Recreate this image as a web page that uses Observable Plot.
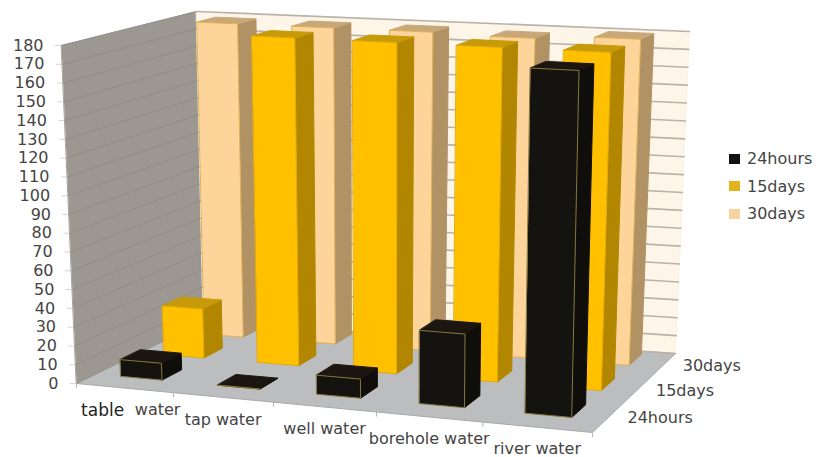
<!DOCTYPE html>
<html>
<head>
<meta charset="utf-8">
<script src="https://cdn.jsdelivr.net/npm/d3@7"></script>
<script src="https://cdn.jsdelivr.net/npm/@observablehq/plot@0.6"></script>
<style>
  body { margin: 0; background: #fff; }
  #chart { position: relative; width: 816px; height: 457px; overflow: hidden; }
  #legend { position: absolute; left: 729px; top: 145px; font: 16px "DejaVu Sans", sans-serif; color: #444; }
  #legend div { display: flex; align-items: center; height: 27.5px; }
  #legend i { width: 11px; height: 10px; margin-right: 7px; display: block; }
</style>
</head>
<body>
<div id="chart"></div>
<script>
// Readings per water source and storage time
const categories = ["table water", "tap water", "well water", "borehole water", "river water"];
const seriesNames = ["24hours", "15days", "30days"];
const hours24 = [9, 0, 10, 38, 177];
const days15 = [27, 179, 179, 179, 179];
const days30 = [178, 178, 178, 177, 179];
const seriesValues = [hours24, days15, days30];
const valueTicks = d3.range(0, 181, 10);
const maxValue = 180;

// Face shades for each series
const shades = [
  {front: "#151310", side: "#0f0e0b", top: "#1c1610", edge: "#85773c", key: "#141210"},
  {front: "#ffc000", side: "#b38600", top: "#c79a0a", edge: "#e3ac0c", key: "#e2b31f"},
  {front: "#fdd49a", side: "#b09265", top: "#c8a878", edge: "#e0b253", key: "#f7d29c"}
];

// Floor corners on screen, and how far the full value height rises and leans at each
const corners = {
  frontLeft: {x: 76, y: 383, rise: 338, lean: -15},
  frontRight: {x: 592, y: 432, rise: 360, lean: 8},
  backRight: {x: 675, y: 353, rise: 322, lean: 14},
  backLeft: {x: 203, y: 321, rise: 310, lean: -7}
};
const widthPerspective = 0.08;
const depthPerspective = 0.1;
const barWidth = 0.43;
const barDepth = 0.46;
const barCenter = 0.48;
const rowCenter = 0.65;

// Value at (a, b) between the four corners
const blend = (key, a, b) =>
  (1 - b) * ((1 - a) * corners.frontLeft[key] + a * corners.frontRight[key]) +
  b * ((1 - a) * corners.backLeft[key] + a * corners.backRight[key]);

// Chart box position (across, deep, value) to screen position
function project(u, v, value) {
  const a = u / (1 + widthPerspective * (1 - u));
  const b = (v * (1 + depthPerspective)) / (1 + depthPerspective * v);
  const t = value / maxValue;
  return {x: blend("x", a, b) + blend("lean", a, b) * t, y: blend("y", a, b) - blend("rise", a, b) * t};
}

// Polygons are flat point lists grouped by id and painted in order
let polyId = 0;
function addPoly(target, points, fill, stroke) {
  const id = polyId++;
  for (const [u, v, value] of points) target.push({id, fill, stroke, ...project(u, v, value)});
}

// Chart box: left wall, back wall, floor
const box = [];
addPoly(box, [[0, 0, 0], [0, 1, 0], [0, 1, maxValue], [0, 0, maxValue]], "#9c9790", "#a8a39c");
addPoly(box, [[0, 1, 0], [1, 1, 0], [1, 1, maxValue], [0, 1, maxValue]], "#fdf5e8", "#fbf3e4");
addPoly(box, [[0, 0, 0], [1, 0, 0], [1, 1, 0], [0, 1, 0]], "#bcbdbe", "#a9a9a9");

// Gridlines on both walls
const leftGrid = [], backGrid = [];
for (const tick of valueTicks) {
  leftGrid.push({tick, ...project(0, 0, tick)}, {tick, ...project(0, 1, tick)});
  backGrid.push({tick, ...project(0, 1, tick)}, {tick, ...project(1, 1, tick)});
}

// Bars run back to front and left to right so nearer faces cover farther ones
const bars = [];
for (let j = seriesNames.length - 1; j >= 0; j--) {
  const s = shades[j];
  seriesValues[j].forEach((value, i) => {
    const u0 = (i + barCenter - barWidth / 2) / categories.length, u1 = (i + barCenter + barWidth / 2) / categories.length;
    const v0 = (j + rowCenter - barDepth / 2) / seriesNames.length, v1 = (j + rowCenter + barDepth / 2) / seriesNames.length;
    addPoly(bars, [[u1, v0, 0], [u1, v1, 0], [u1, v1, value], [u1, v0, value]], s.side, s.side);
    addPoly(bars, [[u0, v0, value], [u1, v0, value], [u1, v1, value], [u0, v1, value]], s.top, s.top);
    addPoly(bars, [[u0, v0, 0], [u1, v0, 0], [u1, v0, value], [u0, v0, value]], s.front, s.edge);
  });
}

// Axis labels
const valueLabels = valueTicks.map((tick) => ({tick, ...project(0, 0, tick)}));
const categoryLabels = categories.slice(1).map((name, i) => ({name, ...project((i + 1.5) / categories.length, 0, 0)}));
const firstCategory = project(0.5 / categories.length, 0, 0);
const depthLabels = seriesNames.map((name, j) => ({name, ...project(1, (j + 0.5) / seriesNames.length, 0)}));
const categoryTicks = d3.range(0, categories.length + 1).map((i) => project(i / categories.length, 0, 0));

const labelFont = {fontFamily: "DejaVu Sans", fontSize: 16, fill: "#444"};
const polyStyle = {x: "x", y: "y", z: "id", fill: "fill", stroke: "stroke", strokeWidth: 1, curve: "linear-closed"};

const plot = Plot.plot({
  width: 816,
  height: 457,
  margin: 0,
  x: {domain: [0, 816], range: [0, 816], axis: null},
  y: {domain: [0, 457], range: [0, 457], axis: null},
  color: {type: "identity"},
  marks: [
    Plot.line(box, polyStyle),
    Plot.line(leftGrid, {x: "x", y: "y", z: "tick", stroke: "#8f8a84", strokeWidth: 0.9}),
    Plot.line(backGrid, {x: "x", y: "y", z: "tick", stroke: "#b9b2a8", strokeWidth: 1.6}),
    Plot.ruleY(valueLabels, {y: "y", x1: (d) => d.x - 6, x2: "x", stroke: "#d4d4d4"}),
    Plot.line(bars, polyStyle),
    Plot.ruleX(categoryTicks, {x: "x", y1: "y", y2: (d) => d.y + 5, stroke: "#b5b5b5"}),
    Plot.text(valueLabels, {x: "x", y: "y", text: "tick", dx: -18, textAnchor: "end", ...labelFont}),
    Plot.text(categoryLabels, {x: "x", y: "y", text: "name", dy: 22, ...labelFont}),
    Plot.text([firstCategory], {x: "x", y: "y", text: () => "water", dx: 33, dy: 22, ...labelFont}),
    Plot.text([firstCategory], {x: "x", y: "y", text: () => "table", dx: -22, dy: 22, fontFamily: "DejaVu Sans", fontSize: 17, fill: "#222"}),
    Plot.text(depthLabels, {x: "x", y: "y", text: "name", dx: 20, dy: 0, textAnchor: "start", ...labelFont})
  ]
});
document.getElementById("chart").append(plot);

// Series legend
const legend = d3.select("#chart").append("div").attr("id", "legend");
seriesNames.forEach((name, j) => {
  const row = legend.append("div");
  row.append("i").style("background", shades[j].key);
  row.append("span").text(name);
});
</script>
</body>
</html>
